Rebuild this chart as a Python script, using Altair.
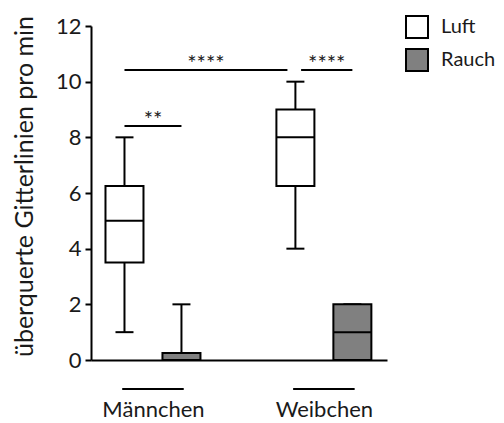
import altair as alt
import pandas as pd

# ---- data ----
groups = ["Männchen", "Weibchen"]
conditions = ["Luft", "Rauch"]
fill_colors = ["white", "#808080"]

# box statistics, order: Männchen-Luft, Männchen-Rauch, Weibchen-Luft, Weibchen-Rauch
whisk_lo = [1, 0, 4, 0]
q1 = [3.5, 0, 6.25, 0]
median = [5, 0, 8, 1]
q3 = [6.25, 0.25, 9, 2]
whisk_hi = [8, 2, 10, 2]

# significance comparisons (box indices), labels and bar heights
sig_from = [0, 0, 2]
sig_to = [1, 2, 3]
sig_labels = ["**", "****", "****"]
sig_heights = [8.41, 10.42, 10.42]
sig_trim_start = [0.0, 0.0, 0.1]
sig_trim_end = [0.0, 0.14, 0.0]

underline_y = -1.04

FONT = "Lato"
TXT = "#1a1a1a"


def slot(i):
    g, c = divmod(i, 2)
    return g * 3 + c


boxes = pd.DataFrame({
    "slot": [slot(i) for i in range(4)],
    "cond": [conditions[i % 2] for i in range(4)],
    "lo": whisk_lo, "q1": q1, "med": median, "q3": q3, "hi": whisk_hi,
})

sig = pd.DataFrame({
    "slot": [slot(a) + s for a, s in zip(sig_from, sig_trim_start)],
    "slot2": [slot(b) - e for b, e in zip(sig_to, sig_trim_end)],
    "y": sig_heights,
    "label": sig_labels,
})
sig["mid"] = (sig["slot"] + sig["slot2"]) / 2

under = pd.DataFrame({
    "slot": [g * 3 - 0.04 for g in range(len(groups))],
    "slot2": [g * 3 + 1.04 for g in range(len(groups))],
    "y": [underline_y] * len(groups),
})

label_expr = " : ".join(
    [f"datum.value < {g * 3 + 2} ? '{name}'" for g, name in enumerate(groups[:-1])]
    + [f"'{groups[-1]}'"]
)

xscale = alt.Scale(domain=[-0.5, 4.52], nice=False, zero=False)
xaxis = alt.Axis(values=[g * 3 + 0.5 for g in range(len(groups))], labelExpr=label_expr,
                 ticks=False, tickSize=0, grid=False, title=None, domainWidth=2,
                 domainColor="black", labelPadding=39, labelFontSize=22, labelFont=FONT,
                 labelColor=TXT, labelAngle=0)
yscale = alt.Scale(domain=[0, 12], nice=False, zero=False)
yaxis = alt.Axis(values=list(range(0, 13, 2)), title="überquerte Gitterlinien pro min",
                 grid=False, domainWidth=2, domainColor="black", tickColor="black",
                 tickWidth=2, tickSize=6, labelPadding=4, labelFontSize=22, labelFont=FONT,
                 labelColor=TXT, titleFont=FONT, titleFontSize=25, titleFontWeight="normal",
                 titleColor=TXT, titleX=-59, titleY=160, titleBaseline="alphabetic",
                 titleAngle=-90)


def X(f):
    return alt.X(f"{f}:Q", scale=xscale, axis=xaxis)


def Y(f):
    return alt.Y(f"{f}:Q", scale=yscale, axis=yaxis)


base = alt.Chart(boxes)

whiskers = base.mark_rule(color="black", strokeWidth=2).encode(
    x=X("slot"), y=Y("lo"), y2="hi:Q")
caps_lo = base.mark_tick(orient="horizontal", color="black", size=18, thickness=2,
                         opacity=1).encode(x=X("slot"), y=Y("lo"))
caps_hi = base.mark_tick(orient="horizontal", color="black", size=18, thickness=2,
                         opacity=1).encode(x=X("slot"), y=Y("hi"))
bars = base.mark_bar(size=38, stroke="black", strokeWidth=2, opacity=1).encode(
    x=X("slot"), y=Y("q1"), y2="q3:Q",
    fill=alt.Fill("cond:N", scale=alt.Scale(domain=conditions, range=fill_colors),
                  legend=alt.Legend(title=None, orient="none", legendX=314, legendY=-11,
                                    symbolType="square", symbolSize=484,
                                    symbolStrokeColor="black", symbolStrokeWidth=2,
                                    symbolOpacity=1,
                                    labelFontSize=20, labelFont=FONT, labelColor=TXT,
                                    labelOffset=12, rowPadding=3)))
medians = base.mark_tick(orient="horizontal", color="black", size=38, thickness=2,
                         opacity=1).encode(x=X("slot"), y=Y("med"))

sig_lines = alt.Chart(sig).mark_rule(color="black", strokeWidth=2).encode(
    x=X("slot"), x2="slot2:Q", y=Y("y"))
sig_text = alt.Chart(sig).mark_text(baseline="alphabetic", dy=1, fontSize=22, font=FONT,
                                    color=TXT).encode(
    x=X("mid"), y=Y("y"), text="label:N")
under_lines = alt.Chart(under).mark_rule(color="black", strokeWidth=2).encode(
    x=X("slot"), x2="slot2:Q", y=Y("y"))

chart = alt.layer(whiskers, caps_lo, caps_hi, bars, medians, sig_lines, sig_text,
                  under_lines).properties(
    width=296, height=334,
    padding={"left": 83, "top": 18, "right": 109, "bottom": 62},
    autosize=alt.AutoSizeParams(type="none"),
).configure_view(stroke=None)

chart.save("out.html", embed_options={"renderer": "svg", "actions": False})
